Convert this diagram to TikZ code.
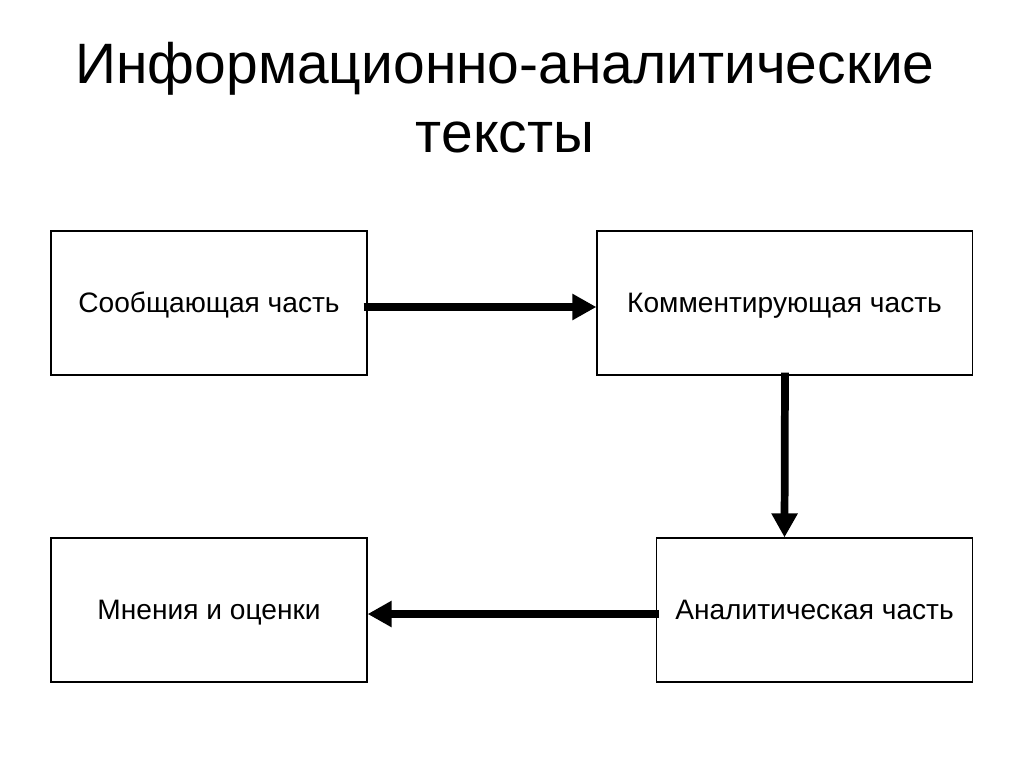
\documentclass[tikz,border=0pt]{standalone}
\usepackage{fontspec}
\setmainfont{Liberation Sans}
\usetikzlibrary{arrows.meta,positioning}

\begin{document}
\begin{tikzpicture}[
    x=0.025cm, y=-0.025cm,
    part/.style={rectangle, draw=black, line width=0.8pt, minimum width=7.9cm, minimum height=3.6cm, font=\fontsize{20}{24}\selectfont, inner sep=0pt, text height=18pt, text depth=3.8pt},
    arrow/.style={-{Triangle[length=0.6cm, width=0.62cm]}, line width=5.5pt}
]
    \useasboundingbox (0,0) rectangle (1024,768);
    % title
    \node[font=\fontsize{40.5}{47}\selectfont, align=center] (title) at (505,98) {Информационно-аналитические\\[2pt]тексты};

    \node[part] (report) at (209,303) {Сообщающая часть};
    \node[part, minimum width=9.375cm] (comment) at (784.5,303) {Комментирующая часть};
    \node[part] (opinion) at (209,610) {Мнения и оценки};
    \node[part] (analysis) at (814.5,610) {Аналитическая часть};

    \draw[arrow] ([xshift=-0.1cm, yshift=-0.1cm]report.east) -- ([yshift=-0.1cm]comment.west);
    \draw[arrow] ([xshift=0.012cm, yshift=0.075cm]comment.south) -- (comment.south |- analysis.north);
    \draw[arrow] ([xshift=0.075cm, yshift=-0.1cm]analysis.west) -- ([yshift=-0.1cm]opinion.east);
\end{tikzpicture}
\end{document}
